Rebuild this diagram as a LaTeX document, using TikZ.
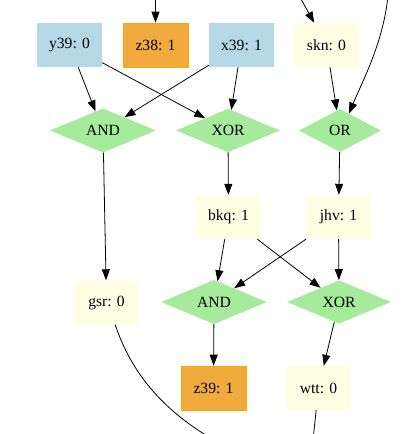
\documentclass[tikz,border=0pt]{standalone}
\usepackage{fontspec}
\setmainfont{Liberation Serif}
\usetikzlibrary{shapes.geometric,arrows.meta}
\definecolor{inblue}{HTML}{B4D8E6}
\definecolor{outorange}{HTML}{F1AA3E}
\definecolor{outborder}{HTML}{FFA500}
\definecolor{wireyellow}{HTML}{FFFFE3}
\definecolor{gategreen}{HTML}{A5EB9B}
\tikzset{
  x=1pt,y=-1pt,
  every node/.style={font=\fontsize{15.6}{18}\selectfont, inner sep=0pt},
  box/.style={rectangle, minimum width=65pt, minimum height=44pt},
  inbox/.style={box, fill=inblue},
  outbox/.style={box, fill=outorange, draw=outborder, line width=0.6pt},
  wirebox/.style={box, fill=wireyellow},
  gate/.style={diamond, fill=gategreen, minimum height=43pt},
  wire/.style={draw=black, line width=0.8pt, -{Triangle[length=11pt,width=8pt]}},
  plain/.style={draw=black, line width=0.8pt},
}
\begin{document}
\begin{tikzpicture}
\useasboundingbox (0,0) rectangle (404,434);
\clip (0,0) rectangle (404,434);
% inputs / wires row 1
\node[inbox] (y39) at (69.5,45) {y39: 0};
\node[outbox] (z38) at (155.5,45) {z38: 1};
\node[inbox] (x39) at (241.5,45) {x39: 1};
\node[wirebox] (skn) at (326.5,45) {skn: 0};
% gates row 1
\node[gate, minimum width=106pt] (and1) at (103,130.5) {AND};
\node[gate, minimum width=104pt] (xor1) at (228,130.5) {XOR};
\node[gate, minimum width=82pt] (or1) at (340,130.5) {OR};
% wires row 2
\node[wirebox] (bkq) at (228.5,217) {bkq: 1};
\node[wirebox] (jhv) at (338.5,217) {jhv: 1};
% row 3
\node[wirebox] (gsr) at (106.5,302.5) {gsr: 0};
\node[gate, minimum width=106pt] (and2) at (214,302) {AND};
\node[gate, minimum width=104pt] (xor2) at (339,302) {XOR};
% row 4
\node[outbox] (z39) at (213.5,388) {z39: 1};
\node[wirebox] (wtt) at (318.5,388) {wtt: 0};
% free ends
\coordinate (tz38) at (155.5,-10);
\coordinate (tskn) at (296,-10);
\coordinate (tor) at (388.5,-10);
\coordinate (bgsr) at (214,440);
\coordinate (bwtt) at (312.5,445);
% edges
\draw[wire] (tz38) -- (z38);
\draw[wire] (tskn) -- (skn);
\draw[wire] (tor) .. controls (385,40) and (362,82) .. (or1.62);
\draw[wire] (y39) -- (and1);
\draw[wire] (y39) -- (xor1);
\draw[wire] (x39) -- (and1);
\draw[wire] (x39) -- (xor1);
\draw[wire] (skn) -- (or1);
\draw[wire] (and1) -- (gsr);
\draw[wire] (xor1) -- (bkq);
\draw[wire] (or1) -- (jhv);
\draw[wire] (bkq) -- (and2);
\draw[wire] (bkq) -- (xor2);
\draw[wire] (jhv) -- (and2);
\draw[wire] (jhv) -- (xor2);
\draw[wire] (and2) -- (z39);
\draw[wire] (xor2) -- (wtt);
\draw[plain] (gsr.south east) ++(-24,0) .. controls (131,372) and (162,410) .. (bgsr);
\draw[plain] (wtt) -- (bwtt);
\end{tikzpicture}
\end{document}
